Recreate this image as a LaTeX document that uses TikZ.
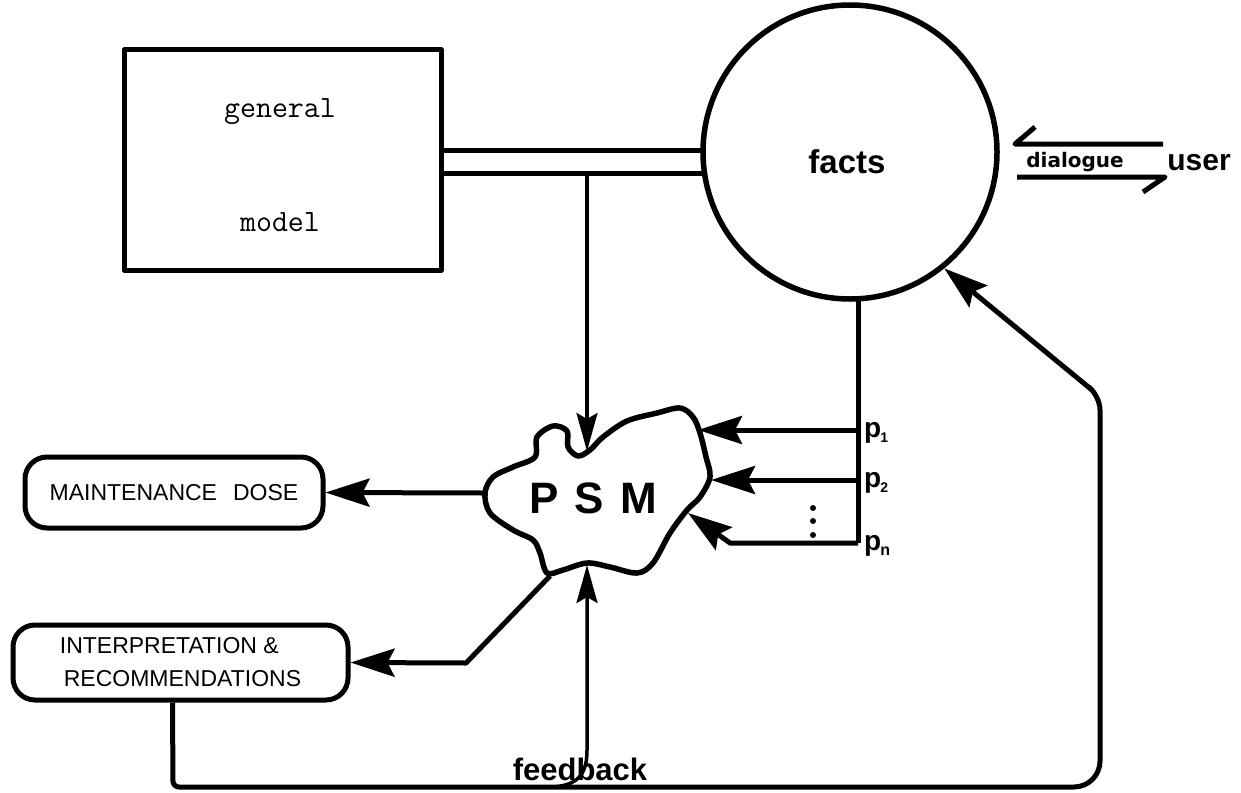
\documentclass[tikz,border=0pt]{standalone}
\usepackage{fontspec}
\setmainfont{Liberation Sans}
\newfontfamily\djsans{DejaVu Sans}
\usetikzlibrary{arrows.meta}
\begin{document}
\begin{tikzpicture}[x=1pt,y=-1pt,line join=round,
  ln/.style={line width=5pt},
  thinln/.style={line width=3.5pt},
  bigarr/.style={-{Stealth[length=44pt,width=28pt,inset=7pt]}},
  smallarr/.style={-{Stealth[length=38pt,width=21pt,inset=6pt]}},
  hand/.style={font=\fontsize{23}{35}\selectfont},
  roundbox/.style={draw,line width=5pt,rounded corners=22pt,inner sep=0pt}]
\useasboundingbox (0,0) rectangle (1241,792);

% general model box
\node[draw,line width=5pt,minimum width=317pt,minimum height=220pt,inner sep=0pt] (gm) at (282.5,160) {};
\node[anchor=base,font=\ttfamily\fontsize{31}{36}\selectfont] (gen) at (280,117) {general};
\node[anchor=base,font=\ttfamily\fontsize{31}{36}\selectfont] (mod) at (280,231) {model};

% facts circle
\node[draw,circle,line width=5.5pt,minimum size=294pt,inner sep=0pt] (facts) at (850,152) {};
\node[anchor=base,font=\bfseries\fontsize{33}{40}\selectfont] (factstext) at (847,173) {facts};

% double line from general model to facts
\coordinate (dA) at (703,150);
\coordinate (dB) at (705,173);
\coordinate (split) at (587,173);
\draw[ln] (gm.east |- dA) -- (dA);
\draw[ln] (gm.east |- dB) -- (dB);

% PSM blob
\draw[line width=5.5pt] plot[smooth cycle,tension=0.55] coordinates{
 (485,493) (493,477) (513,467) (535,457) (537,437) (553,426) (567,431) (568,447)
 (578,456) (590,450) (603,437) (627,421) (657,413) (680,408) (693,417) (700,433)
 (706,457) (710,477) (700,497) (687,510) (670,533) (653,563) (637,573) (610,567)
 (587,563) (563,570) (547,573) (540,553) (533,540) (513,530) (490,513)};
\node[anchor=base,font=\bfseries\fontsize{44}{50}\selectfont] (psm) at (593,513) {P\hspace{16pt}S\hspace{16pt}M};
\coordinate (psmTop) at (587,451);
\coordinate (psmW) at (483,493);
\coordinate (psmR1) at (698,430);
\coordinate (psmR2) at (711,480);
\coordinate (psmR3) at (688,513);
\coordinate (psmBL) at (550,576);
\coordinate (psmB) at (587,565);

\draw[thinln,smallarr] (split) -- (psmTop);

% parameter lines from facts
\coordinate (fb) at (858,297);
\coordinate (pv1) at (858,430);
\coordinate (pv2) at (858,480);
\coordinate (pvn) at (858,543);
\draw[ln] (fb) -- (pvn);
\draw[ln,bigarr] (pv1) -- (psmR1);
\draw[ln,bigarr] (pv2) -- (psmR2);
\draw[ln,bigarr] (pvn) -- (730,543) -- (psmR3);
\fill (813,508) circle (3pt) (813,521) circle (3pt) (813,535) circle (3pt);
\node[anchor=base west,inner sep=0pt,font=\bfseries\fontsize{28}{30}\selectfont] (p1) at (864,437) {p\kern-1pt\raisebox{-5pt}{\fontsize{14}{14}\selectfont 1}};
\node[anchor=base west,inner sep=0pt,font=\bfseries\fontsize{28}{30}\selectfont] (p2) at (864,487) {p\kern-1pt\raisebox{-5pt}{\fontsize{14}{14}\selectfont 2}};
\node[anchor=base west,inner sep=0pt,font=\bfseries\fontsize{28}{30}\selectfont] (pn) at (864,550) {p\kern-1pt\raisebox{-5pt}{\fontsize{16}{16}\selectfont n}};

% output boxes
\node[roundbox,hand,minimum width=298pt,minimum height=71pt] (maint) at (174,492.5) {MAINTENANCE\hspace{0.7em}DOSE};
\node[roundbox,hand,minimum width=335pt,minimum height=75pt,align=left] (interp) at (180.5,662.5) {INTERPRETATION \&\\[-2pt]\hspace{4pt}RECOMMENDATIONS};

\draw[ln,bigarr] (psmW) -- (maint.east);
\draw[ln,bigarr] (psmBL) -- (466,663) -- (interp.east);

% feedback loop
\coordinate (fbJoin) at (553,787);
\draw[ln] ([xshift=-8pt]interp.south) [rounded corners=6pt] -- (173,787) [rounded corners=26pt] -- (1100,787) [rounded corners=14pt] -- (1100,396) [sharp corners] -- (1090,388);
\draw[ln,bigarr] (1092,390) -- (facts.-51);
\draw[thinln,smallarr] (fbJoin) .. controls (580,785) and (587,772) .. (587,750) -- (psmB);
\node[anchor=base,font=\bfseries\fontsize{31}{36}\selectfont] (feedback) at (580,780) {feedback};

% dialogue with user
\coordinate (dlgTR) at (1163,144);
\coordinate (dlgTL) at (1015,144);
\coordinate (dlgTB) at (1035,127);
\coordinate (dlgBL) at (1017,177);
\coordinate (dlgBR) at (1165,177);
\coordinate (dlgBB) at (1143,192);
\draw[ln] (dlgTR) -- (dlgTL) -- (dlgTB);
\draw[ln] (dlgBL) -- (dlgBR) -- (dlgBB);
\node[anchor=base,font=\djsans\bfseries\fontsize{20}{24}\selectfont] (dialogue) at (1075,167) {dialogue};
\node[anchor=base,font=\bfseries\fontsize{30}{36}\selectfont] (user) at (1199,170) {user};
\end{tikzpicture}
\end{document}
